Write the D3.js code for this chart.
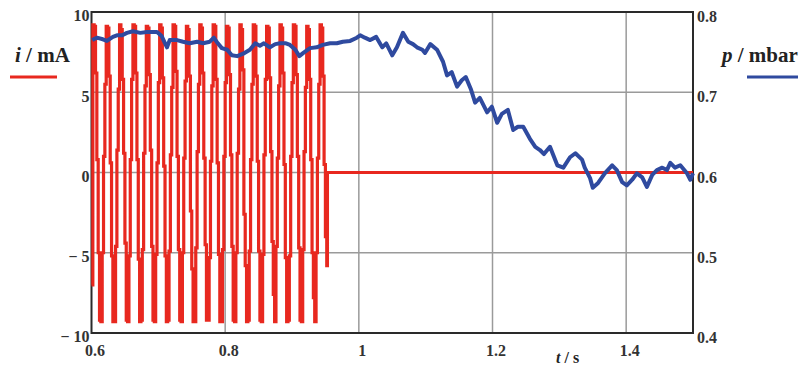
<!DOCTYPE html>
<html>
<head>
<meta charset="utf-8">
<script src="https://cdn.jsdelivr.net/npm/d3@7"></script>
<style>
  body { margin: 0; background: #fff; }
  svg { display: block; }
  .tick text { font-family: "Liberation Serif", "Times New Roman", serif; font-weight: bold; font-size: 16px; fill: #333; }
  .title { font-family: "Liberation Serif", "Times New Roman", serif; font-weight: bold; fill: #222; }
</style>
</head>
<body>
<svg id="chart" width="807" height="369"></svg>
<script>
// time axis
const xTicks = [0.6, 0.8, 1, 1.2, 1.4];
const xTickLabels = ["0.6", "0.8", "1", "1.2", "1.4"];
const leftTicks = [10, 5, 0, -5, -10];
const leftTickLabels = ["10", "5", "0", "\u2212 5", "\u2212 10"];
const rightTicks = [0.8, 0.7, 0.6, 0.5, 0.4];
const rightTickLabels = ["0.8", "0.7", "0.6", "0.5", "0.4"];

// current i (mA), one value per 2 ms from t = 0.6 s (held until next sample)
const currentStart = 0.6;
const currentStep = 0.002;
const currentVals = [
  -7.0, 9.2, 9.1, 6.2, 0.8, -5.0, -9.2, -9.3, -5.0, 1.0,
  5.5, 9.1, 9.0, 6.0, 0.6, -5.2, -9.3, -9.3, -4.6, 1.4,
  5.2, 9.2, 8.9, 5.8, 1.2, -4.4, -9.2, -9.3, -5.2, 0.8,
  5.8, 9.2, 9.1, 6.2, 0.8, -5.4, -9.3, -9.2, -4.8, 1.2,
  5.4, 9.1, 9.0, 6.1, 1.4, -4.6, -9.2, -9.3, -5.1, 0.6,
  5.6, 9.2, 9.0, 5.9, 0.4, -5.2, -9.3, -9.2, -4.9, 1.1,
  5.3, 9.2, 9.1, 6.3, 1.0, -4.8, -9.2, -9.3, -5.0, 0.9,
  5.7, 9.1, 8.9, 6.0, -2.4, -6.0, -9.3, -9.3, -4.7, 1.3,
  5.5, 9.2, 9.0, 6.2, 0.9, -4.5, -9.2, -9.2, -5.3, 0.7,
  5.4, 9.2, 9.1, 5.8, 0.6, -5.1, -9.3, -9.3, -4.8, 1.0,
  5.6, 9.1, 9.0, 6.1, 1.1, -4.6, -9.2, -9.3, -5.0, 1.2,
  5.2, 9.2, 8.9, 6.4, -2.6, -5.8, -9.3, -9.2, -4.9, 0.8,
  5.5, 9.2, 9.1, 6.0, 0.7, -4.9, -9.2, -9.3, -5.1, 1.1,
  5.8, 9.1, 9.0, 5.9, 1.3, -4.3, -7.6, -9.3, -4.6, 0.9,
  5.4, 9.2, 9.0, 6.2, 0.5, -5.3, -9.3, -9.2, -5.2, 1.0,
  5.6, 9.2, 9.1, 6.1, 1.0, -4.7, -9.2, -9.3, -4.8, 1.3,
  5.3, 9.1, 8.9, 5.8, 0.8, -5.0, -7.8, -9.3, -5.0, 0.9,
  5.5, 9.2, 9.0, 6.0, 0.5, -4.0, -5.8
];
// after switch-off
const currentTailT = [0.953, 1.5];
const currentTailI = [0, 0];

// pressure p (mbar)
const pressureT = [
  0.601, 0.608, 0.617, 0.623, 0.632, 0.638, 0.646, 0.653, 0.662, 0.673,
  0.683, 0.691, 0.698, 0.705, 0.710, 0.713, 0.717, 0.728, 0.737, 0.747,
  0.758, 0.767, 0.777, 0.783, 0.789, 0.795, 0.803, 0.810, 0.818, 0.827,
  0.837, 0.845, 0.852, 0.858, 0.867, 0.875, 0.882, 0.891, 0.897, 0.905,
  0.911, 0.917, 0.927, 0.937, 0.946, 0.957, 0.967, 0.976, 0.987, 0.997,
  1.002, 1.009, 1.017, 1.026, 1.035, 1.041, 1.050, 1.057, 1.066, 1.074,
  1.081, 1.087, 1.095, 1.099, 1.107, 1.117, 1.126, 1.132, 1.139, 1.147,
  1.154, 1.160, 1.168, 1.174, 1.181, 1.192, 1.199, 1.207, 1.214, 1.223,
  1.231, 1.238, 1.246, 1.256, 1.264, 1.271, 1.277, 1.286, 1.297, 1.306,
  1.316, 1.324, 1.334, 1.338, 1.346, 1.350, 1.358, 1.368, 1.379, 1.386,
  1.394, 1.401, 1.409, 1.416, 1.424, 1.431, 1.439, 1.446, 1.454, 1.461,
  1.466, 1.473, 1.481, 1.491, 1.496, 1.500
];
const pressureP = [
  0.765, 0.768, 0.766, 0.764, 0.769, 0.771, 0.771, 0.774, 0.776, 0.774,
  0.775, 0.775, 0.775, 0.770, 0.761, 0.756, 0.765, 0.765, 0.763, 0.761,
  0.763, 0.761, 0.763, 0.768, 0.761, 0.755, 0.753, 0.746, 0.745, 0.748,
  0.753, 0.761, 0.758, 0.761, 0.756, 0.760, 0.761, 0.761, 0.759, 0.753,
  0.745, 0.749, 0.755, 0.756, 0.759, 0.761, 0.761, 0.763, 0.764, 0.768,
  0.771, 0.768, 0.765, 0.769, 0.756, 0.761, 0.746, 0.756, 0.774, 0.763,
  0.760, 0.756, 0.753, 0.749, 0.760, 0.753, 0.738, 0.721, 0.725, 0.707,
  0.715, 0.719, 0.703, 0.687, 0.693, 0.675, 0.682, 0.662, 0.673, 0.678,
  0.653, 0.657, 0.657, 0.642, 0.632, 0.628, 0.623, 0.632, 0.609, 0.606,
  0.619, 0.624, 0.616, 0.606, 0.593, 0.581, 0.587, 0.599, 0.609, 0.603,
  0.588, 0.584, 0.591, 0.599, 0.594, 0.582, 0.597, 0.603, 0.606, 0.603,
  0.612, 0.606, 0.609, 0.599, 0.591, 0.599
];

const red = "#e8281f";
const blue = "#2f4a9f";

const svg = d3.select("#chart");
const plotLeft = 91.5, plotRight = 693, plotTop = 12, plotBottom = 333;

const x = d3.scaleLinear().domain([0.6, 1.5]).range([plotLeft, plotRight]);
const yL = d3.scaleLinear().domain([-10, 10]).range([plotBottom, plotTop]);
const yR = d3.scaleLinear().domain([0.4, 0.8]).range([plotBottom, plotTop]);

// grid
const grid = svg.append("g");
grid.selectAll(".vgrid").data(xTicks.slice(1))
  .enter().append("line")
  .attr("x1", d => x(d)).attr("x2", d => x(d))
  .attr("y1", plotTop).attr("y2", plotBottom)
  .attr("stroke", "#9a9a9a").attr("stroke-width", 1.5);
grid.selectAll(".hgrid").data([5, 0, -5])
  .enter().append("line")
  .attr("x1", plotLeft).attr("x2", plotRight)
  .attr("y1", d => yL(d)).attr("y2", d => yL(d))
  .attr("stroke", "#9a9a9a").attr("stroke-width", 1.5);

// frame
svg.append("rect")
  .attr("x", plotLeft).attr("y", plotTop)
  .attr("width", plotRight - plotLeft).attr("height", plotBottom - plotTop)
  .attr("fill", "none").attr("stroke", "#2a2a2a").attr("stroke-width", 2);

// axes (labels only)
svg.append("g")
  .attr("transform", `translate(0,${plotBottom})`)
  .call(d3.axisBottom(x).tickValues(xTicks).tickSize(0).tickPadding(0)
    .tickFormat((d, i) => xTickLabels[i]))
  .call(g => g.select(".domain").remove())
  .call(g => g.selectAll("text").attr("dy", null).attr("y", 23).attr("dx", 3));

svg.append("g")
  .attr("transform", `translate(${plotLeft},0)`)
  .call(d3.axisLeft(yL).tickValues(leftTicks).tickSize(0).tickPadding(2)
    .tickFormat((d, i) => leftTickLabels[i]))
  .call(g => g.select(".domain").remove())
  .call(g => g.selectAll("text").attr("dy", "0.55em"));

svg.append("g")
  .attr("transform", `translate(${plotRight},0)`)
  .call(d3.axisRight(yR).tickValues(rightTicks).tickSize(0).tickPadding(4)
    .tickFormat((d, i) => rightTickLabels[i]))
  .call(g => g.select(".domain").remove())
  .call(g => g.selectAll("text").attr("dy", "0.6em"));

// current line
const currentData = currentVals.map((v, i) => [currentStart + i * currentStep, v])
  .concat(currentTailT.map((t, i) => [t, currentTailI[i]]));
const lineI = d3.line().curve(d3.curveStepAfter).x(d => x(d[0])).y(d => yL(d[1]));
svg.append("path")
  .datum(currentData)
  .attr("d", lineI)
  .attr("fill", "none")
  .attr("stroke", red)
  .attr("stroke-width", 3.2);

// pressure line
const pressureData = pressureT.map((t, i) => [t, pressureP[i]]);
const lineP = d3.line().x(d => x(d[0])).y(d => yR(d[1]));
svg.append("path")
  .datum(pressureData)
  .attr("d", lineP)
  .attr("fill", "none")
  .attr("stroke", blue)
  .attr("stroke-width", 4)
  .attr("stroke-linejoin", "round");

// titles + legend swatches
const ti = svg.append("text").attr("class", "title").attr("x", 15).attr("y", 62).attr("font-size", 21);
ti.append("tspan").attr("font-style", "italic").text("i");
ti.append("tspan").text(" / mA");
svg.append("line").attr("x1", 10).attr("x2", 57).attr("y1", 77).attr("y2", 77)
  .attr("stroke", red).attr("stroke-width", 3);

const tp = svg.append("text").attr("class", "title").attr("x", 722).attr("y", 62).attr("font-size", 21);
tp.append("tspan").attr("font-style", "italic").text("p");
tp.append("tspan").text(" / mbar");
svg.append("line").attr("x1", 747).attr("x2", 798).attr("y1", 77).attr("y2", 77)
  .attr("stroke", blue).attr("stroke-width", 3);

const tt = svg.append("text").attr("class", "title").attr("x", 556).attr("y", 363).attr("font-size", 16);
tt.append("tspan").attr("font-style", "italic").text("t");
tt.append("tspan").text(" / s");
</script>
</body>
</html>
